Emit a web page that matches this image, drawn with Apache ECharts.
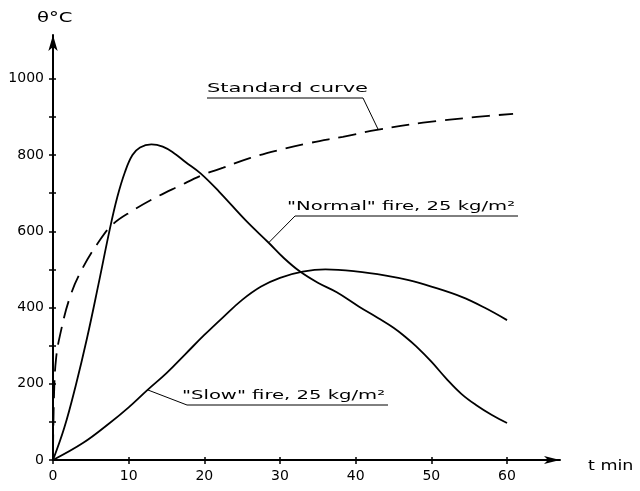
<!DOCTYPE html>
<html>
<head>
<meta charset="utf-8">
<script src="https://cdn.jsdelivr.net/npm/echarts@6/dist/echarts.min.js"></script>
<style>
  html, body { margin: 0; padding: 0; background: #fff; }
  #chart { width: 640px; height: 491px; }
</style>
</head>
<body>
<div id="chart"></div>
<script>
// Fire temperature curves: [time (min), temperature (°C)]
const standardCurve = [
  [0, 20], [0.15, 180], [0.4, 265], [0.9, 325], [2.2, 425], [3.8, 499], [6.2, 577],
  [8, 620], [10.6, 655], [13.2, 685], [16.8, 720], [19.8, 748], [22.5, 767], [26, 792],
  [29.6, 812], [34, 832], [38.3, 848], [42.8, 866], [48.9, 885], [56, 900], [60.8, 908]
];
const normalFire = [
  [0, 0], [1.5, 85], [3, 195], [4.5, 320], [6, 460], [7.5, 605], [8.5, 690], [9.5, 755],
  [10.5, 800], [11.5, 820], [13, 828], [14.5, 822], [16, 805], [17.5, 782], [19.5, 752],
  [22, 703], [25.5, 628], [28.5, 570], [30.5, 530], [32.6, 495], [35, 465], [37.5, 440],
  [40.4, 403], [43, 372], [45, 347], [46.5, 324], [48, 298], [50, 258], [52, 213],
  [54, 173], [56, 143], [58, 118], [60, 97]
];
const slowFire = [
  [0, 0], [4, 45], [7.5, 97], [10, 138], [12.5, 184], [15, 228], [17.5, 278], [20, 328],
  [22.5, 375], [25, 420], [27.5, 455], [30, 478], [33, 494], [36, 500], [40, 495],
  [44, 484], [47, 472], [50, 455], [54, 428], [57, 400], [60, 367]
];

// Axis ticks and labels
const xTickValues = [0, 10, 20, 30, 40, 50, 60];
const yLabelValues = [0, 200, 400, 600, 800, 1000];
const yTickValues = [0, 100, 200, 300, 400, 500, 600, 700, 800, 900, 1000];

// Curve labels with the point on each curve their leader line touches
const curveNotes = [
  { text: 'Standard curve', at: [43, 866], box: [207, 89, 161], underlineFrom: 363, side: 'right' },
  { text: '"Normal" fire, 25 kg/m²', at: [28.5, 570], box: [287, 207, 228], underlineFrom: 295, side: 'left' },
  { text: '"Slow" fire, 25 kg/m²', at: [12.5, 184], box: [182, 396, 203], underlineFrom: 187, side: 'left' }
];

const FONT = 'DejaVu Sans';
const chart = echarts.init(document.getElementById('chart'));

const lineSeries = (data, dashed) => ({
  type: 'line',
  data: data,
  showSymbol: false,
  smooth: 0.4,
  silent: true,
  lineStyle: { color: '#000', width: 1.8, type: dashed ? [18, 9] : 'solid' }
});

const xBase = { type: 'value', min: 0, max: 67, splitLine: { show: false } };
const yBase = { type: 'value', min: 0, max: 1115, splitLine: { show: false } };
const plainNumber = v => String(v);

chart.setOption({
  animation: false,
  backgroundColor: '#fff',
  grid: { left: 53, right: 80, top: 35, bottom: 31 },
  xAxis: [
    Object.assign({}, xBase, {
      position: 'bottom',
      axisLine: { show: true, symbol: ['none', 'arrow'], symbolSize: [6, 16],
        lineStyle: { color: '#000', width: 2 } },
      axisTick: { show: true, customValues: xTickValues, length: 4, lineStyle: { color: '#000', width: 1.5 } },
      axisLabel: { show: true, customValues: xTickValues, formatter: plainNumber, color: '#000', fontFamily: FONT, fontSize: 14, margin: 9 }
    }),
    Object.assign({}, xBase, {
      position: 'bottom',
      axisLine: { show: false },
      axisTick: { show: true, inside: true, customValues: xTickValues, length: 3, lineStyle: { color: '#000', width: 1.5 } },
      axisLabel: { show: false }
    })
  ],
  yAxis: [
    Object.assign({}, yBase, {
      position: 'left',
      axisLine: { show: true, symbol: ['none', 'arrow'], symbolSize: [7, 16],
        lineStyle: { color: '#000', width: 2 } },
      axisTick: { show: true, customValues: yTickValues, length: 4, lineStyle: { color: '#000', width: 1.5 } },
      axisLabel: { show: true, customValues: yLabelValues, formatter: plainNumber, color: '#000', fontFamily: FONT, fontSize: 14, margin: 9 }
    }),
    Object.assign({}, yBase, {
      position: 'left',
      axisLine: { show: false },
      axisTick: { show: true, inside: true, customValues: yTickValues, length: 3, lineStyle: { color: '#000', width: 1.5 } },
      axisLabel: { show: false }
    })
  ],
  series: [
    lineSeries(standardCurve, true),
    lineSeries(normalFire, false),
    lineSeries(slowFire, false)
  ]
});

// Stretch lettering to the wide spacing of the drawn annotations
const measureCtx = document.createElement('canvas').getContext('2d');
function textWidth(text, size) {
  measureCtx.font = size + 'px "' + FONT + '"';
  return measureCtx.measureText(text).width;
}

const graphics = [
  { type: 'text', x: 37, y: 18, scaleX: 1.4, style: { text: 'θ°C', font: '14px "' + FONT + '"', fill: '#000', align: 'left', verticalAlign: 'middle' } },
  { type: 'text', x: 588, y: 466, scaleX: 1.25, style: { text: 't min', font: '14px "' + FONT + '"', fill: '#000', align: 'left', verticalAlign: 'middle' } }
];

curveNotes.forEach(function (n) {
  const size = 13;
  const [left, midY, width] = n.box;
  const scale = width / textWidth(n.text, size);
  graphics.push({
    type: 'text', x: left, y: midY, scaleX: scale,
    style: { text: n.text, font: size + 'px "' + FONT + '"', fill: '#000', align: 'left', verticalAlign: 'middle' }
  });
  const p = chart.convertToPixel({ gridIndex: 0 }, n.at);
  const uy = midY + 9;
  const farEnd = n.side === 'right' ? left : left + width + 3;
  graphics.push({
    type: 'polyline',
    shape: { points: [p, [n.underlineFrom, uy], [farEnd, uy]] },
    style: { stroke: '#000', lineWidth: 1, fill: null }
  });
});

chart.setOption({ graphic: graphics });
</script>
</body>
</html>
